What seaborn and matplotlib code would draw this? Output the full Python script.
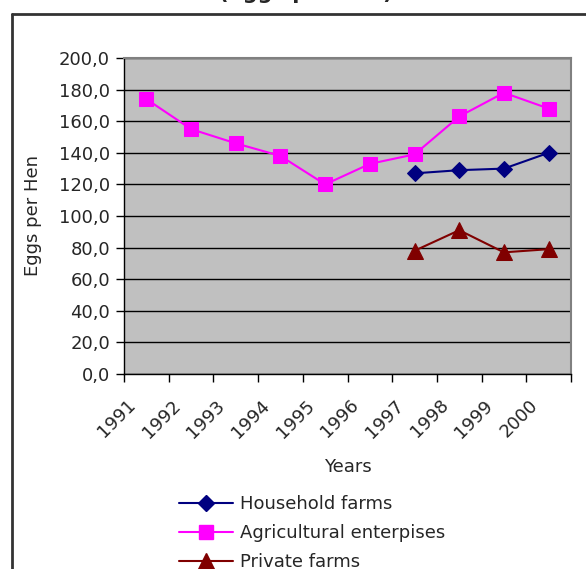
import matplotlib
matplotlib.use("Agg")
import matplotlib.pyplot as plt
from matplotlib.lines import Line2D
import matplotlib.transforms as mtransforms
import numpy as np
import pandas as pd
import seaborn as sns

years = [1991, 1992, 1993, 1994, 1995, 1996, 1997, 1998, 1999, 2000]
household_years = [1997, 1998, 1999, 2000]
household_farms = [127, 129, 130, 140]
agri_enterprises = [174, 155, 146, 138, 120, 133, 139, 163, 178, 168]
private_years = [1997, 1998, 1999, 2000]
private_farms = [78, 91, 77, 79]
y_ticks = [0, 20, 40, 60, 80, 100, 120, 140, 160, 180, 200]

sns.set_style("white")
plt.rcParams["font.family"] = ["DejaVu Sans"]
FS = 13

fig = plt.figure(figsize=(5.86, 5.69), dpi=100)
ax = fig.add_axes([124 / 586, 1 - 374 / 569, (571 - 124) / 586, (374 - 58) / 569])
ax.set_facecolor("#C0C0C0")

series = [
    ("Household farms", household_years, household_farms, "#000080", "D", 8.5),
    ("Agricultural enterpises", years, agri_enterprises, "#FF00FF", "s", 10),
    ("Private farms", private_years, private_farms, "#800000", "^", 11),
]
handles = []
for name, xs, ys, color, marker, ms in series:
    df = pd.DataFrame({"year": xs, "eggs": ys})
    sns.lineplot(data=df, x="year", y="eggs", ax=ax, color=color, marker=marker,
                 markersize=ms, markeredgecolor=color, linewidth=1.5, zorder=3)
    handles.append(Line2D([], [], color=color, marker=marker, markersize=ms,
                          markeredgecolor=color, linewidth=1.5, label=name))

ax.set_xlim(years[0] - 0.5, years[-1] + 0.5)
ax.set_ylim(0, 200)
ax.set_yticks(y_ticks)
ax.set_yticklabels([f"{v:.1f}".replace(".", ",") for v in y_ticks], fontsize=FS)
ax.yaxis.grid(True, color="#000000", linewidth=1.0)
ax.set_axisbelow(True)

ax.set_xticks(np.arange(years[0] - 0.5, years[-1] + 1.0, 1.0))
ax.set_xticklabels([])
ax.set_xticks(years, minor=True)
ax.set_xticklabels([str(y) for y in years], minor=True, fontsize=FS,
                   rotation=45, ha="right", rotation_mode="anchor")
ax.tick_params(axis="x", which="minor", length=0, pad=16)
ax.tick_params(axis="x", which="major", length=6, width=1, color="#000000", direction="out", bottom=True)
ax.tick_params(axis="y", length=6, width=1, color="#000000", direction="out", left=True, pad=4)
shift = mtransforms.ScaledTranslation(-20 / 100, 0, fig.dpi_scale_trans)
for lbl in ax.get_xticklabels(minor=True):
    lbl.set_transform(lbl.get_transform() + shift)

for s in ["top", "right"]:
    ax.spines[s].set_color("#808080")
    ax.spines[s].set_linewidth(1.5)
for s in ["left", "bottom"]:
    ax.spines[s].set_color("#000000")
    ax.spines[s].set_linewidth(1.0)

ax.set_xlabel("Years", fontsize=FS, labelpad=12)
ax.set_ylabel("Eggs per Hen", fontsize=FS, labelpad=12)

fig.text(306 / 586, 1 + 1 / 569, "(eggs per hen)", fontsize=15, fontweight="bold",
         ha="center", va="baseline")

# outer chart frame
fig.add_artist(Line2D([12 / 586, 12 / 586], [0, 1 - 14 / 569], transform=fig.transFigure,
                      color="#333333", linewidth=2))
fig.add_artist(Line2D([12 / 586, 1], [1 - 14 / 569, 1 - 14 / 569], transform=fig.transFigure,
                      color="#333333", linewidth=2))

fig.legend(handles=handles, loc="upper left", bbox_to_anchor=(170 / 586, 1 - 486 / 569),
           frameon=False, fontsize=FS, handlelength=3.0, handletextpad=0.35,
           labelspacing=0.62, borderpad=0)

fig.savefig("out.png", dpi=100)
